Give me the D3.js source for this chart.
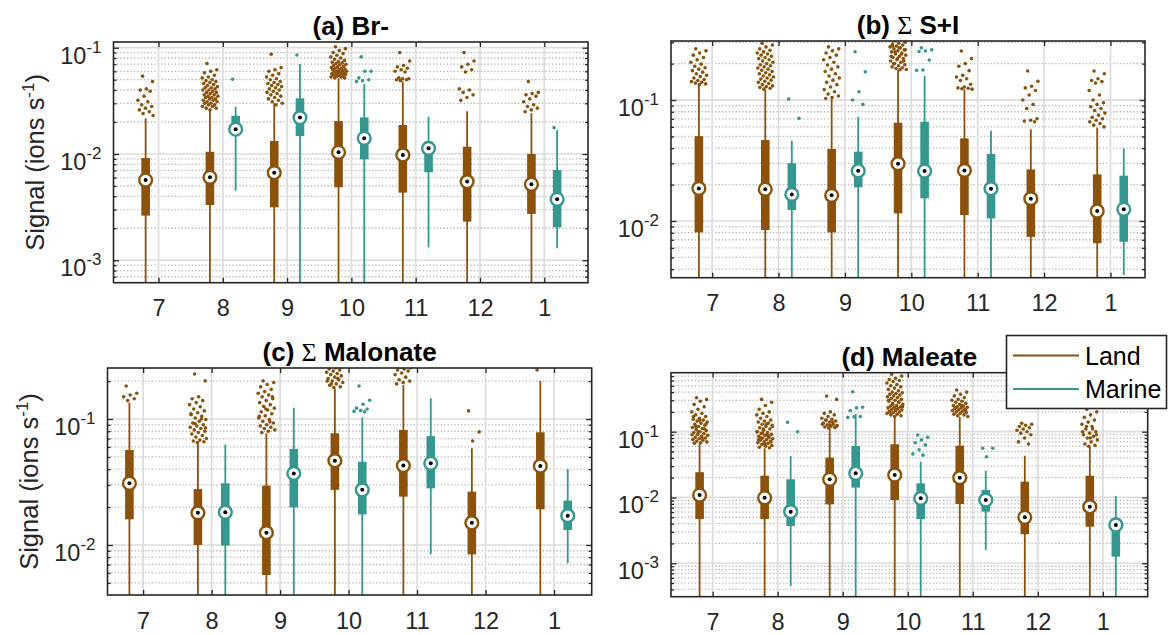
<!DOCTYPE html>
<html>
<head>
<meta charset="utf-8">
<script src="https://cdn.jsdelivr.net/npm/d3@7"></script>
<style>
  body { margin: 0; background: #fff; }
  svg { display: block; font-family: "Liberation Sans", Arial, sans-serif; }
</style>
</head>
<body>
<svg id="chart" width="1168" height="635"></svg>
<script>
// ---- data ----
const months = ["7", "8", "9", "10", "11", "12", "1"];
const seriesNames = ["Land", "Marine"];
const seriesColors = ["#8c510a", "#35978f"];

// each row: [whiskerLow, q1, median, q3, whiskerHigh]; null = no samples
// 1e-4 means the lower whisker runs off the bottom of the axis
const brLand = [
  [1e-4, 0.00263, 0.00569, 0.00917, 0.0217],
  [1e-4, 0.00331, 0.00604, 0.0105, 0.0259],
  [1e-4, 0.00315, 0.00667, 0.01325, 0.030],
  [1e-4, 0.00486, 0.01038, 0.0204, 0.0515],
  [1e-4, 0.00433, 0.0098, 0.01875, 0.048],
  [1e-4, 0.00231, 0.0055, 0.0117, 0.0253],
  [1e-4, 0.00273, 0.00519, 0.0100, 0.0242]
];
const brMarine = [
  null,
  [0.00452, 0.0158, 0.0171, 0.0229, 0.0279],
  [1e-4, 0.01475, 0.0220, 0.0334, 0.0703],
  [1e-4, 0.0089, 0.01406, 0.0221, 0.0456],
  [0.00132, 0.00673, 0.0113, 0.0131, 0.0224],
  null,
  [0.0013, 0.00204, 0.00375, 0.00707, 0.0168]
];
const brLandOut = [
  [0.054, 0.048, 0.041, 0.040, 0.039, 0.035, 0.032, 0.031, 0.029, 0.028, 0.027, 0.026, 0.025, 0.024, 0.023],
  [0.071, 0.062, 0.060, 0.058, 0.055, 0.053, 0.052, 0.050, 0.049, 0.048, 0.047, 0.046, 0.045, 0.044, 0.043,
   0.042, 0.042, 0.041, 0.040, 0.040, 0.039, 0.038, 0.038, 0.037, 0.036, 0.036, 0.035, 0.035, 0.034, 0.034,
   0.033, 0.033, 0.032, 0.032, 0.031, 0.031, 0.030, 0.030, 0.029, 0.029, 0.028, 0.028, 0.027, 0.027, 0.026],
  [0.087, 0.065, 0.062, 0.060, 0.057, 0.055, 0.053, 0.051, 0.050, 0.048, 0.047, 0.046, 0.045, 0.044, 0.043,
   0.042, 0.041, 0.040, 0.039, 0.038, 0.037, 0.036, 0.035, 0.034, 0.033, 0.032, 0.031, 0.030, 0.029],
  [0.102, 0.098, 0.094, 0.090, 0.088, 0.085, 0.082, 0.080, 0.078, 0.076, 0.074, 0.073, 0.072, 0.071, 0.070,
   0.069, 0.068, 0.067, 0.066, 0.065, 0.064, 0.064, 0.063, 0.062, 0.062, 0.061, 0.060, 0.060, 0.059, 0.059,
   0.058, 0.058, 0.057, 0.057, 0.056, 0.056, 0.055, 0.055, 0.054, 0.054, 0.053, 0.053, 0.052, 0.052],
  [0.090, 0.075, 0.068, 0.066, 0.064, 0.062, 0.060, 0.059, 0.052, 0.051, 0.051, 0.050, 0.050, 0.049],
  [0.090, 0.075, 0.070, 0.066, 0.062, 0.059, 0.041, 0.040, 0.038, 0.036, 0.034, 0.032],
  [0.048, 0.038, 0.037, 0.036, 0.035, 0.033, 0.031, 0.029, 0.028, 0.027, 0.026, 0.025]
];
const brMarineOut = [[], [0.0505], [0.0853], [0.082, 0.060, 0.060, 0.052, 0.050, 0.049, 0.048], [], [], [0.0177]];

const siLand = [
  [1e-4, 0.00805, 0.0186, 0.0503, 0.133],
  [1e-4, 0.00843, 0.0183, 0.0467, 0.122],
  [1e-4, 0.00805, 0.0163, 0.0394, 0.102],
  [1e-4, 0.01156, 0.0298, 0.065, 0.177],
  [1e-4, 0.0112, 0.0262, 0.0482, 0.1226],
  [1e-4, 0.0074, 0.0153, 0.0267, 0.0573],
  [1e-4, 0.00655, 0.0121, 0.0243, 0.059]
];
const siMarine = [
  null,
  [1e-4, 0.01233, 0.0166, 0.030, 0.0461],
  [1e-4, 0.019, 0.026, 0.0374, 0.0727],
  [1e-4, 0.0154, 0.0259, 0.0662, 0.159],
  [1e-4, 0.0105, 0.0185, 0.0358, 0.0557],
  null,
  [0.00358, 0.00675, 0.0125, 0.0237, 0.0399]
];
const siLandOut = [
  [0.265, 0.255, 0.245, 0.235, 0.225, 0.215, 0.205, 0.198, 0.190, 0.185, 0.180, 0.175, 0.170, 0.165, 0.160,
   0.156, 0.152, 0.148, 0.145, 0.142, 0.140, 0.138, 0.136, 0.134],
  [0.295, 0.285, 0.275, 0.265, 0.258, 0.250, 0.245, 0.240, 0.235, 0.230, 0.225, 0.220, 0.215, 0.210, 0.205,
   0.200, 0.196, 0.192, 0.188, 0.184, 0.180, 0.176, 0.172, 0.168, 0.165, 0.162, 0.158, 0.155, 0.152, 0.149,
   0.146, 0.143, 0.140, 0.137, 0.134, 0.131, 0.129, 0.127, 0.125, 0.123],
  [0.275, 0.265, 0.255, 0.245, 0.235, 0.225, 0.215, 0.205, 0.195, 0.188, 0.180, 0.172, 0.165, 0.158, 0.152,
   0.146, 0.140, 0.134, 0.128, 0.122, 0.117, 0.112, 0.108, 0.105, 0.103],
  [0.310, 0.300, 0.295, 0.290, 0.285, 0.280, 0.275, 0.270, 0.265, 0.260, 0.255, 0.250, 0.245, 0.240, 0.235,
   0.230, 0.225, 0.220, 0.215, 0.210, 0.205, 0.200, 0.196, 0.192, 0.188, 0.185, 0.182, 0.179, 0.178, 0.200,
   0.210, 0.220, 0.230, 0.240, 0.250, 0.260, 0.270, 0.280],
  [0.254, 0.220, 0.200, 0.190, 0.175, 0.160, 0.155, 0.150, 0.145, 0.135, 0.128, 0.126, 0.125, 0.124, 0.123],
  [0.174, 0.143, 0.130, 0.126, 0.120, 0.110, 0.100, 0.092, 0.085, 0.070, 0.068, 0.067, 0.066],
  [0.174, 0.165, 0.150, 0.145, 0.142, 0.138, 0.120, 0.110, 0.100, 0.095, 0.092, 0.088, 0.085, 0.082, 0.078,
   0.075, 0.072, 0.070, 0.068, 0.066, 0.064, 0.062, 0.060]
];
const siMarineOut = [[], [0.102, 0.0706], [0.251, 0.171, 0.117, 0.100, 0.092],
  [0.270, 0.260, 0.254, 0.252, 0.214, 0.177, 0.176], [], [], []];

const malonLand = [
  [1e-4, 0.016, 0.0309, 0.0568, 0.1346],
  [1e-4, 0.010, 0.018, 0.0278, 0.064],
  [1e-4, 0.00578, 0.01253, 0.0296, 0.077],
  [1e-4, 0.0274, 0.0467, 0.077, 0.175],
  [1e-4, 0.0242, 0.0427, 0.0818, 0.186],
  [1e-4, 0.00843, 0.015, 0.0265, 0.0585],
  [1e-4, 0.0192, 0.0424, 0.0784, 0.200]
];
const malonMarine = [
  null,
  [1e-4, 0.0099, 0.0182, 0.0309, 0.0629],
  [1e-4, 0.0199, 0.037, 0.0578, 0.123],
  [1e-4, 0.0175, 0.0274, 0.0458, 0.103],
  [0.00843, 0.0282, 0.0445, 0.0732, 0.146],
  null,
  [0.00716, 0.01315, 0.0171, 0.0225, 0.0401]
];
const malonLandOut = [
  [0.183, 0.160, 0.155, 0.150, 0.145, 0.140],
  [0.228, 0.201, 0.150, 0.145, 0.140, 0.135, 0.130, 0.125, 0.120, 0.116, 0.112, 0.108, 0.105, 0.102, 0.099,
   0.096, 0.093, 0.090, 0.088, 0.086, 0.084, 0.082, 0.080, 0.078, 0.076, 0.074, 0.072, 0.070, 0.068, 0.067,
   0.066, 0.065, 0.110, 0.100, 0.092, 0.085],
  [0.201, 0.195, 0.188, 0.180, 0.172, 0.165, 0.160, 0.155, 0.150, 0.145, 0.140, 0.135, 0.130, 0.126, 0.122,
   0.118, 0.114, 0.110, 0.106, 0.102, 0.099, 0.096, 0.093, 0.090, 0.088, 0.086, 0.084, 0.082, 0.080, 0.078,
   0.150, 0.120, 0.105, 0.095],
  [0.270, 0.260, 0.255, 0.250, 0.245, 0.240, 0.235, 0.230, 0.225, 0.220, 0.215, 0.210, 0.205, 0.200, 0.195,
   0.190, 0.185, 0.180, 0.178, 0.200, 0.210, 0.190],
  [0.260, 0.255, 0.250, 0.245, 0.240, 0.232, 0.225, 0.215, 0.205, 0.200, 0.195, 0.190],
  [0.116, 0.079, 0.0669],
  [0.245, 0.260]
];
const malonMarineOut = [[], [], [], [0.183, 0.141, 0.131, 0.122, 0.120, 0.117, 0.115, 0.114], [], [], []];

const maleLand = [
  [1e-4, 0.00471, 0.0109, 0.0242, 0.0667],
  [1e-4, 0.00471, 0.0099, 0.0214, 0.056],
  [1e-4, 0.00787, 0.0189, 0.0403, 0.113],
  [1e-4, 0.00916, 0.022, 0.0643, 0.169],
  [1e-4, 0.00796, 0.020, 0.0613, 0.169],
  [1e-4, 0.00276, 0.005, 0.0174, 0.0432],
  [1e-4, 0.0036, 0.00724, 0.0214, 0.0592]
];
const maleMarine = [
  null,
  [0.000452, 0.00369, 0.00608, 0.0189, 0.0428],
  [1e-4, 0.0141, 0.0233, 0.0606, 0.186],
  [1e-4, 0.0047, 0.0097, 0.0164, 0.035],
  [0.00159, 0.0061, 0.00916, 0.013, 0.0255],
  null,
  [1e-4, 0.00126, 0.00382, 0.00483, 0.0105]
];
const maleLandOut = [
  [0.329, 0.310, 0.290, 0.260, 0.240, 0.220, 0.200, 0.190, 0.180, 0.170, 0.160, 0.155, 0.150, 0.145, 0.140,
   0.135, 0.130, 0.125, 0.120, 0.116, 0.112, 0.108, 0.104, 0.100, 0.097, 0.094, 0.091, 0.088, 0.085, 0.082,
   0.080, 0.078, 0.076, 0.074, 0.072, 0.070, 0.068, 0.067, 0.110, 0.100, 0.090, 0.080, 0.120, 0.130, 0.150, 0.170],
  [0.310, 0.280, 0.250, 0.220, 0.200, 0.190, 0.180, 0.170, 0.160, 0.150, 0.145, 0.140, 0.135, 0.130, 0.125,
   0.120, 0.115, 0.110, 0.105, 0.100, 0.097, 0.094, 0.091, 0.088, 0.085, 0.082, 0.080, 0.078, 0.076, 0.074,
   0.072, 0.070, 0.068, 0.066, 0.064, 0.062, 0.060, 0.058, 0.057, 0.110, 0.100, 0.090, 0.080, 0.070, 0.065,
   0.075, 0.085, 0.095, 0.120, 0.130],
  [0.348, 0.310, 0.200, 0.190, 0.180, 0.170, 0.160, 0.155, 0.150, 0.145, 0.140, 0.135, 0.130, 0.127, 0.124,
   0.121, 0.118, 0.116, 0.114, 0.130, 0.140, 0.150, 0.120, 0.125],
  [0.750, 0.700, 0.650, 0.620, 0.600, 0.580, 0.550, 0.520, 0.500, 0.480, 0.460, 0.440, 0.420, 0.400, 0.390,
   0.380, 0.370, 0.360, 0.350, 0.340, 0.330, 0.320, 0.310, 0.300, 0.290, 0.280, 0.270, 0.260, 0.250, 0.245,
   0.240, 0.235, 0.230, 0.225, 0.220, 0.215, 0.210, 0.205, 0.200, 0.195, 0.190, 0.185, 0.180, 0.175, 0.170,
   0.300, 0.280, 0.260, 0.240, 0.220, 0.200],
  [0.430, 0.400, 0.370, 0.350, 0.330, 0.310, 0.300, 0.290, 0.280, 0.270, 0.260, 0.250, 0.245, 0.240, 0.235,
   0.230, 0.225, 0.220, 0.215, 0.210, 0.205, 0.200, 0.195, 0.190, 0.185, 0.180, 0.175, 0.170, 0.250, 0.230, 0.210],
  [0.134, 0.130, 0.125, 0.120, 0.115, 0.110, 0.105, 0.100, 0.095, 0.090, 0.080, 0.070, 0.065],
  [0.219, 0.200, 0.180, 0.165, 0.150, 0.140, 0.130, 0.120, 0.110, 0.100, 0.095, 0.090, 0.085, 0.080, 0.075,
   0.070, 0.065, 0.062, 0.060, 0.100, 0.110, 0.120, 0.090, 0.080]
];
const maleMarineOut = [[], [0.139, 0.100], [0.406, 0.235, 0.230, 0.210, 0.170, 0.168, 0.165],
  [0.089, 0.082, 0.075, 0.068, 0.063, 0.053, 0.046, 0.044], [0.056, 0.056, 0.0417], [], []];

// axis limits (x in month-index units, y in ions/s)
const brXlim = [-0.70, 6.68], brYlim = [6.15e-4, 0.1132];
const siXlim = [-0.62, 6.52], siYlim = [3.40e-3, 0.3076];
const malonXlim = [-0.52, 6.55], malonYlim = [4.01e-3, 0.2541];
const maleXlim = [-0.64, 6.69], maleYlim = [3.10e-4, 0.7889];

// ---- layout ----
const svg = d3.select("#chart");
const groupOffset = [-0.2, 0.2];
const tickFont = 23.5, supFont = 17, titleFont = 26, labelFont = 25.5;
const axisColor = "#262626";

const panels = [
  { id: "a", pre: "(a) Br-", sigma: false, post: "", land: brLand, marine: brMarine,
    landOut: brLandOut, marineOut: brMarineOut, xlim: brXlim, ylim: brYlim,
    box: { l: 113.5, r: 588, t: 42, b: 282.7 }, ylabel: true },
  { id: "b", pre: "(b) ", sigma: true, post: " S+I", land: siLand, marine: siMarine,
    landOut: siLandOut, marineOut: siMarineOut, xlim: siXlim, ylim: siYlim,
    box: { l: 671, r: 1145, t: 41, b: 277.7 }, ylabel: false },
  { id: "c", pre: "(c) ", sigma: true, post: " Malonate", land: malonLand, marine: malonMarine,
    landOut: malonLandOut, marineOut: malonMarineOut, xlim: malonXlim, ylim: malonYlim,
    box: { l: 107.5, r: 591.7, t: 368, b: 595 }, ylabel: true },
  { id: "d", pre: "(d) Maleate", sigma: false, post: "", land: maleLand, marine: maleMarine,
    landOut: maleLandOut, marineOut: maleMarineOut, xlim: maleXlim, ylim: maleYlim,
    box: { l: 671, r: 1147.7, t: 372.7, b: 596.7 }, ylabel: false }
];

// spread outliers sideways so they don't sit on one line
function jitter(k) {
  return (((k * 0.6180339887 + 0.31) % 1) - 0.5) * 0.25;
}

function drawPanel(p) {
  const bx = p.box;
  const x = d3.scaleLinear().domain(p.xlim).range([bx.l, bx.r]);
  const y = d3.scaleLog().domain(p.ylim).range([bx.b, bx.t]);
  const g = svg.append("g");

  const clipId = "clip-" + p.id;
  svg.append("clipPath").attr("id", clipId)
    .append("rect").attr("x", bx.l).attr("y", bx.t)
    .attr("width", bx.r - bx.l).attr("height", bx.b - bx.t);

  // tick values for the log axis
  const e0 = Math.floor(Math.log10(p.ylim[0])), e1 = Math.ceil(Math.log10(p.ylim[1]));
  const majors = [], minors = [];
  for (let e = e0; e <= e1; e++) {
    const base = Math.pow(10, e);
    if (base >= p.ylim[0] && base <= p.ylim[1]) majors.push(base);
    for (let m = 2; m <= 9; m++) {
      const v = m * base;
      if (v >= p.ylim[0] && v <= p.ylim[1]) minors.push(v);
    }
  }
  const xTicks = d3.range(months.length);

  // grid
  const grid = g.append("g");
  grid.selectAll(".minor").data(minors).enter().append("line")
    .attr("x1", bx.l).attr("x2", bx.r)
    .attr("y1", d => y(d)).attr("y2", d => y(d))
    .attr("stroke", "#b5b5b5").attr("stroke-width", 1.3)
    .attr("stroke-dasharray", "1.3,2.1");
  grid.selectAll(".major").data(majors).enter().append("line")
    .attr("x1", bx.l).attr("x2", bx.r)
    .attr("y1", d => y(d)).attr("y2", d => y(d))
    .attr("stroke", "#dcdcdc").attr("stroke-width", 1.7);
  grid.selectAll(".xg").data(xTicks).enter().append("line")
    .attr("x1", d => x(d)).attr("x2", d => x(d))
    .attr("y1", bx.t).attr("y2", bx.b)
    .attr("stroke", "#dcdcdc").attr("stroke-width", 1.7);

  const marks = g.append("g").attr("clip-path", `url(#${clipId})`);
  const sets = [[p.land, p.landOut], [p.marine, p.marineOut]];

  sets.forEach(([stats, outs], s) => {
    const col = seriesColors[s];
    // outliers
    outs.forEach((vals, i) => {
      marks.append("g").selectAll("circle").data(vals).enter().append("circle")
        .attr("cx", (d, k) => x(i + groupOffset[s] + jitter(k)))
        .attr("cy", d => y(d))
        .attr("r", 1.8)
        .attr("fill", col);
    });
    const rows = stats.map((d, i) => ({ d, i })).filter(r => r.d);
    const bg = marks.append("g");
    // whiskers
    bg.selectAll(".wh").data(rows).enter().append("line")
      .attr("x1", r => x(r.i + groupOffset[s])).attr("x2", r => x(r.i + groupOffset[s]))
      .attr("y1", r => y(r.d[0])).attr("y2", r => y(r.d[4]))
      .attr("stroke", col).attr("stroke-width", 1.8);
    // boxes
    bg.selectAll(".bx").data(rows).enter().append("rect")
      .attr("x", r => x(r.i + groupOffset[s]) - 4.3)
      .attr("width", 8.6)
      .attr("y", r => y(r.d[3]))
      .attr("height", r => y(r.d[1]) - y(r.d[3]))
      .attr("fill", col);
    // median markers
    bg.selectAll(".md").data(rows).enter().append("circle")
      .attr("cx", r => x(r.i + groupOffset[s])).attr("cy", r => y(r.d[2]))
      .attr("r", 6.4).attr("fill", "#fff").attr("stroke", col).attr("stroke-width", 2.4);
    bg.selectAll(".mdot").data(rows).enter().append("circle")
      .attr("cx", r => x(r.i + groupOffset[s])).attr("cy", r => y(r.d[2]))
      .attr("r", 2).attr("fill", "#000");
  });

  // frame
  g.append("rect").attr("x", bx.l).attr("y", bx.t)
    .attr("width", bx.r - bx.l).attr("height", bx.b - bx.t)
    .attr("fill", "none").attr("stroke", axisColor).attr("stroke-width", 1.6);

  // x ticks: bottom with labels, top without
  const xb = g.append("g").attr("transform", `translate(0,${bx.b})`)
    .call(d3.axisBottom(x).tickValues(xTicks).tickFormat(i => months[i])
      .tickSizeInner(-5).tickSizeOuter(0).tickPadding(17));
  const xt = g.append("g").attr("transform", `translate(0,${bx.t})`)
    .call(d3.axisTop(x).tickValues(xTicks).tickFormat("")
      .tickSizeInner(-5).tickSizeOuter(0));
  // y ticks: left with labels, right without, plus minor ticks
  const yl = g.append("g").attr("transform", `translate(${bx.l},0)`)
    .call(d3.axisLeft(y).tickValues(majors).tickSizeInner(-5.5).tickSizeOuter(0).tickPadding(12)
      .tickFormat(d => Math.round(Math.log10(d))));
  const yr = g.append("g").attr("transform", `translate(${bx.r},0)`)
    .call(d3.axisRight(y).tickValues(majors).tickFormat("").tickSizeInner(-5.5).tickSizeOuter(0));
  const ylm = g.append("g").attr("transform", `translate(${bx.l},0)`)
    .call(d3.axisLeft(y).tickValues(minors).tickFormat("").tickSizeInner(-3).tickSizeOuter(0));
  const yrm = g.append("g").attr("transform", `translate(${bx.r},0)`)
    .call(d3.axisRight(y).tickValues(minors).tickFormat("").tickSizeInner(-3).tickSizeOuter(0));

  [xb, xt, yl, yr, ylm, yrm].forEach(a => {
    a.select(".domain").remove();
    a.selectAll(".tick line").attr("stroke", axisColor).attr("stroke-width", 1.3);
    a.selectAll("text").attr("fill", axisColor).attr("font-size", tickFont)
      .attr("font-family", '"Liberation Sans", Arial, sans-serif');
  });

  // power-of-ten labels with superscripts
  yl.selectAll(".tick text").each(function (d) {
    const t = d3.select(this);
    const ex = Math.round(Math.log10(d));
    t.text(null).attr("dy", 15.5);
    t.append("tspan").text("10");
    t.append("tspan").attr("dy", -11).attr("font-size", supFont).text(String(ex));
  });

  // title
  const title = svg.append("text")
    .attr("x", (bx.l + bx.r) / 2).attr("y", bx.t - 7)
    .attr("text-anchor", "middle")
    .attr("font-size", titleFont).attr("font-weight", "bold").attr("fill", "#000")
    .attr("xml:space", "preserve");
  title.append("tspan").text(p.pre);
  if (p.sigma) {
    title.append("tspan").attr("font-weight", "normal")
      .attr("font-family", '"Liberation Serif", "DejaVu Serif", serif').text("\u03A3");
    title.append("tspan").text(p.post);
  }

  // y label
  if (p.ylabel) {
    const lab = svg.append("text")
      .attr("transform", `translate(${bx.l - 70},${(bx.t + bx.b) / 2}) rotate(-90)`)
      .attr("text-anchor", "middle")
      .attr("font-size", labelFont).attr("fill", axisColor);
    lab.append("tspan").text("Signal (ions s");
    lab.append("tspan").attr("dy", -10).attr("font-size", 17).text("-1");
    lab.append("tspan").attr("dy", 10).text(")");
  }
}

panels.forEach(drawPanel);

// legend
const leg = svg.append("g");
leg.append("rect").attr("x", 1006.5).attr("y", 335.5).attr("width", 160).attr("height", 73)
  .attr("fill", "#fff").attr("stroke", axisColor).attr("stroke-width", 1.6);
seriesNames.forEach((name, s) => {
  const ly = 355.5 + s * 33.5;
  leg.append("line").attr("x1", 1013).attr("x2", 1079).attr("y1", ly).attr("y2", ly)
    .attr("stroke", seriesColors[s]).attr("stroke-width", 1.8);
  leg.append("text").attr("x", 1085).attr("y", ly + 9)
    .attr("font-size", 25).attr("fill", "#000").text(name);
});
</script>
</body>
</html>
